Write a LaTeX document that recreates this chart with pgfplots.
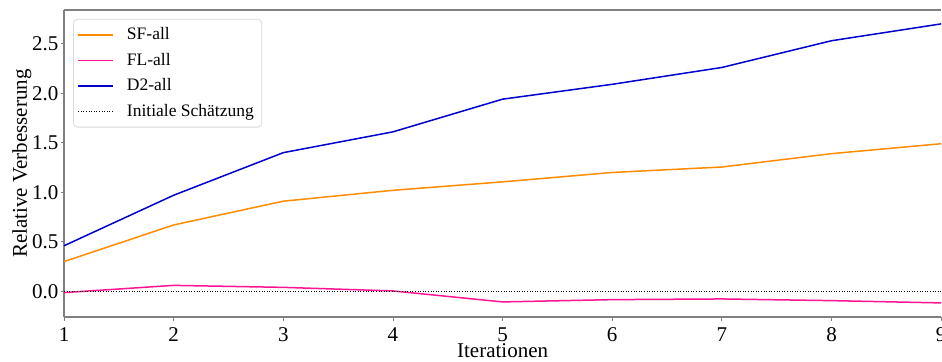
\documentclass[border=0pt]{standalone}
\usepackage{pgfplots}
\pgfplotsset{compat=1.18}
\usepackage{fontspec}
\setmainfont{Liberation Serif}
\definecolor{sfcol}{HTML}{FF8C00}
\definecolor{flcol}{HTML}{FF1493}
\definecolor{d2col}{HTML}{0000CD}
\definecolor{spine}{HTML}{808080}
\begin{document}
\begin{tikzpicture}
\begin{axis}[
  scale only axis,
  width=438.5pt, height=153.5pt,
  xmin=1, xmax=9, ymin=-0.26, ymax=2.84,
  axis x line*=box, axis y line*=left,
  xtick={1,2,3,4,5,6,7,8,9},
  ytick={0,0.5,1,1.5,2,2.5},
  xtick pos=left, ytick pos=left,
  tick align=outside,
  major tick length=1.75pt,
  every tick/.style={spine, line width=0.4pt},
  axis line style={spine, line width=0.6pt},
  /pgf/number format/assume math mode=true,
  yticklabel style={/pgf/number format/fixed, /pgf/number format/fixed zerofill, /pgf/number format/precision=1, font=\fontsize{10.5}{12}\selectfont},
  yticklabel shift=-2.5pt,
  xticklabel style={font=\fontsize{10.5}{12}\selectfont},
  scaled y ticks=false,
  xlabel={Iterationen}, ylabel={Relative Verbesserung},
  label style={font=\fontsize{10.5}{12}\selectfont},
  xlabel style={yshift=5.8pt},
  ylabel style={yshift=-6.5pt},
  legend style={at={(0.0103,0.971)}, anchor=north west, draw=black!15, rounded corners=2pt, fill=white, font=\fontsize{8.75}{10}\selectfont, row sep=1.2pt, inner sep=2pt},
  legend cell align=left,
  legend image code/.code={\draw[#1] (0pt,0pt) -- (17.5pt,0pt); \path (22pt,0pt);},
]
\addplot[sfcol, line width=0.75pt] coordinates {(1,0.30) (2,0.67) (3,0.91) (4,1.02) (5,1.105) (6,1.20) (7,1.255) (8,1.39) (9,1.49)};
\addlegendentry{SF-all}
\addplot[flcol, line width=0.75pt] coordinates {(1,-0.013) (2,0.06) (3,0.04) (4,0.004) (5,-0.107) (6,-0.084) (7,-0.077) (8,-0.094) (9,-0.117)};
\addlegendentry{FL-all}
\addplot[d2col, line width=0.75pt] coordinates {(1,0.46) (2,0.97) (3,1.40) (4,1.61) (5,1.94) (6,2.09) (7,2.26) (8,2.53) (9,2.70)};
\addlegendentry{D2-all}
\addplot[black, line width=0.5pt, dash pattern=on 0.5pt off 0.8pt] coordinates {(1,0) (9,0)};
\addlegendentry{Initiale Schätzung}
\end{axis}
\pgfresetboundingbox
\useasboundingbox (-32pt,-22pt) rectangle (438.9pt,158.5pt);
\end{tikzpicture}
\end{document}
